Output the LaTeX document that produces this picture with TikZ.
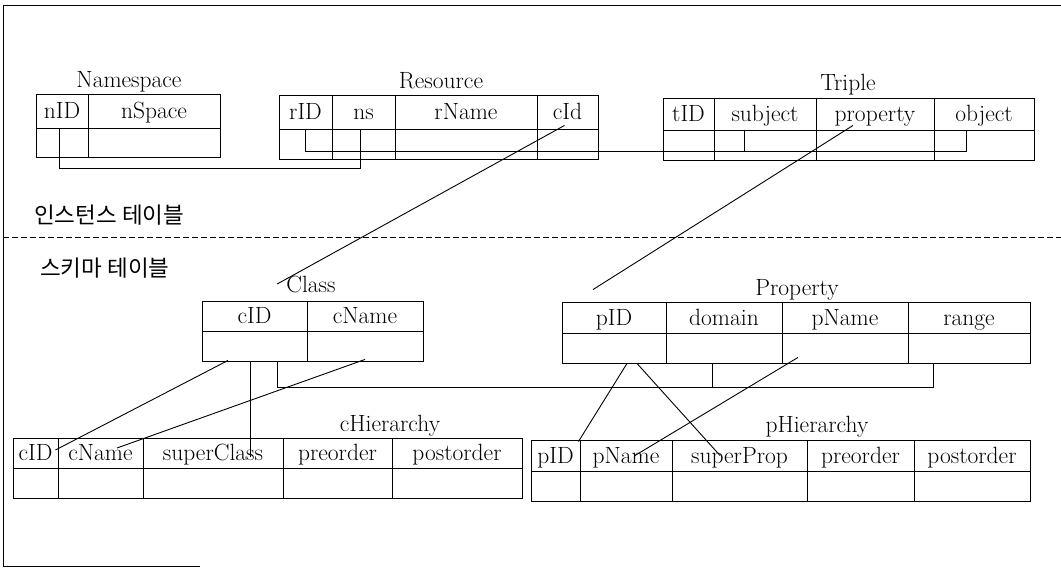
\documentclass[tikz,border=0pt]{standalone}
\usepackage{fontspec}
\newfontfamily\kor{Noto Sans CJK KR}
\usetikzlibrary{calc}
\tikzset{
  cell/.style={draw, line width=0.9pt, inner sep=0pt, text height=15.5pt, text depth=0pt, font=\fontsize{23.5}{26}\selectfont},
  ttl/.style={inner sep=0pt, text height=15.5pt, text depth=0pt, font=\fontsize{23.5}{26}\selectfont},
  link/.style={line width=0.9pt},
  kortext/.style={inner sep=0pt, anchor=west, font=\kor\fontsize{22.5}{26}\selectfont},
}
% #1 name, #2 top, #3 header bottom, #4 bottom, #5 list id/xa/xb/label
\newcommand\dbtable[5]{%
  \foreach \cn/\xa/\xb/\lab in {#5}{%
    \node[cell, minimum width={(\xb-\xa)*1pt}, minimum height={(#3-#2)*1pt}]
      (#1\cn h) at ({(\xa+\xb)/2},{(#2+#3)/2}) {\lab};
    \node[cell, minimum width={(\xb-\xa)*1pt}, minimum height={(#4-#3)*1pt}]
      (#1\cn d) at ({(\xa+\xb)/2},{(#3+#4)/2}) {};
  }%
}
\begin{document}
\begin{tikzpicture}[x=1pt,y=-1pt]
\useasboundingbox (0,0) rectangle (1061,568);
% frame
\draw[link] (200,566) -- (3,566) -- (3,5) -- (1061,5);
% tables
\dbtable{ns}{94}{128}{157}{1/36/88/nID, 2/88/220/nSpace}
\dbtable{rs}{95}{129}{159}{1/279/332/rID, 2/332/395/ns, 3/395/537/rName, 4/537/598/cId}
\dbtable{tr}{98}{130}{160}{1/663/714/tID, 2/714/816/subject, 3/816/934/property, 4/934/1034/object}
\dbtable{cl}{301}{331}{361}{1/202/307/cID, 2/307/423/cName}
\dbtable{pr}{302}{333}{363}{1/562/666/pID, 2/666/782/domain, 3/782/908/pName, 4/908/1030/range}
\dbtable{ch}{438}{468}{498}{1/13/58/cID, 2/58/143/cName, 3/143/283/superClass, 4/283/392/preorder, 5/392/522/postorder}
\dbtable{ph}{440}{471}{501}{1/531/580/pID, 2/580/672/pName, 3/672/807/superProp, 4/807/914/preorder, 5/914/1030/postorder}
% titles
\node[ttl] (nsT) at (129,80) {Namespace};
\node[ttl] (rsT) at (441,81) {Resource};
\node[ttl] (trT) at (848,83) {Triple};
\node[ttl] (clT) at (311,285) {Class};
\node[ttl] (prT) at (797,288) {Property};
\node[ttl] (chT) at (390,424) {cHierarchy};
\node[ttl] (phT) at (817,425) {pHierarchy};
% section labels
\node[kortext] (inst) at (34,215) {인스턴스 테이블};
\node[kortext] (schema) at (40,268) {스키마 테이블};
\draw[link, dash pattern=on 6pt off 3pt] (3,237) -- (1061,237);
% instance connectors
\draw[link] ([xshift=-3pt]ns1d.north) |- ([xshift=-3.5pt,yshift=-9pt]rs2d.south) -- ([xshift=-3.5pt]rs2d.north);
\draw[link] (rs1d.north) |- ([xshift=-18pt,yshift=-6pt]tr4d.center) -- ([xshift=-18pt]tr4d.north);
\draw[link] ([xshift=-21pt]tr2d.north) -- ([xshift=-21pt,yshift=-6pt]tr2d.center);
\draw[link] ([shift={(-3pt,4pt)}]rs4h.south) -- ([xshift=-9pt,yshift=1pt]clT.west);
\draw[link] ([shift={(-22pt,5pt)}]tr3h.south) -- ([shift={(-21pt,12pt)}]pr1h.north);
% schema connectors
\draw[link] ([shift={(-26.5pt,1pt)}]cl1d.south) -- ([shift={(-3pt,3pt)}]ch1h.east);
\draw[link] ([shift={(0pt,2pt)}]cl2d.south) -- ([shift={(16.5pt,5pt)}]ch2h.center);
\coordinate (v1) at ([xshift=-4.5pt]cl1d.south);
\coordinate (v1e) at ([yshift=-4pt]v1 |- ch3h.center);
\draw[link] (v1) -- (v1e);
\coordinate (v2) at ([xshift=22.5pt]cl1d.south);
\coordinate (v3) at ([xshift=-36pt]pr4d.south);
\draw[link] (v2) |- ([yshift=-24pt]v3) -- (v3);
\draw[link] ([xshift=-12pt]pr2d.south) -- ([xshift=-12pt,yshift=-24pt]pr2d.south);
\draw[link] ([xshift=13pt]pr1d.south) -- ([yshift=-2pt,xshift=-2pt]ph1h.north east);
\draw[link] ([xshift=23pt]pr1d.south) -- ([xshift=-19.5pt]ph3h.center);
\draw[link] ([shift={(-47pt,6pt)}]pr3d.south) -- ([xshift=9pt]ph2h.center);
\end{tikzpicture}
\end{document}
